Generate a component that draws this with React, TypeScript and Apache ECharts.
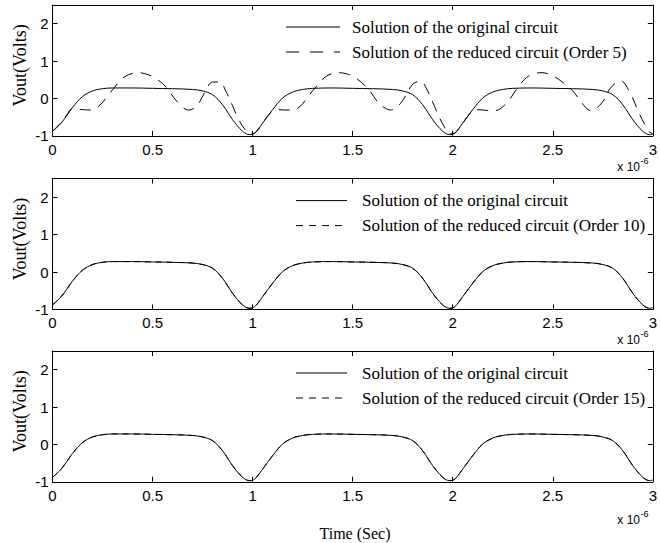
import React, { useEffect, useRef } from "react";
import * as echarts from "echarts";

// ---- data (time in microseconds, volts) ----
const xTickValues = [0, 0.5, 1, 1.5, 2, 2.5, 3];
const yTickValues = [-1, 0, 1, 2];

const originalTime = [
  0, 0.04, 0.07, 0.1, 0.15, 0.2, 0.25, 0.3, 0.4, 0.5, 0.6, 0.7, 0.75, 0.8, 0.85, 0.9, 0.95, 0.985,
  1.01, 1.05, 1.1, 1.15, 1.2, 1.25, 1.3, 1.4, 1.5, 1.6, 1.7, 1.75, 1.8, 1.85, 1.9, 1.95, 1.985,
  2.01, 2.05, 2.1, 2.15, 2.2, 2.25, 2.3, 2.4, 2.5, 2.6, 2.7, 2.75, 2.8, 2.85, 2.9, 2.95, 2.985, 3.0,
];
const originalVolts = [
  -0.88, -0.68, -0.47, -0.24, 0.05, 0.2, 0.26, 0.28, 0.28, 0.27, 0.26, 0.24, 0.2, 0.1, -0.17, -0.57, -0.88, -0.97,
  -0.93, -0.66, -0.3, 0.01, 0.17, 0.24, 0.27, 0.28, 0.27, 0.26, 0.24, 0.2, 0.1, -0.17, -0.57, -0.88, -0.97,
  -0.93, -0.66, -0.3, 0.01, 0.17, 0.24, 0.27, 0.28, 0.27, 0.26, 0.24, 0.2, 0.1, -0.17, -0.57, -0.88, -0.97, -0.95,
];

const reduced5Time = [
  0, 0.04, 0.07, 0.1, 0.15, 0.19, 0.23, 0.27, 0.31, 0.36, 0.43, 0.48, 0.52, 0.57, 0.62, 0.68, 0.72, 0.76, 0.8, 0.835, 0.87, 0.9, 0.93, 0.96, 0.985,
  1.01, 1.05, 1.09, 1.12, 1.16, 1.2, 1.24, 1.27, 1.32, 1.37, 1.43, 1.48, 1.52, 1.58, 1.63, 1.69, 1.74, 1.8, 1.84, 1.87, 1.9, 1.93, 1.96, 1.985,
  2.01, 2.05, 2.09, 2.12, 2.17, 2.21, 2.27, 2.33, 2.38, 2.445, 2.49, 2.53, 2.6, 2.645, 2.69, 2.745, 2.79, 2.84, 2.886, 2.93, 2.96, 2.98, 3.0,
];
const reduced5Volts = [
  -0.88, -0.66, -0.45, -0.27, -0.3, -0.31, -0.21, 0.02, 0.3, 0.58, 0.69, 0.63, 0.52, 0.29, -0.07, -0.31, -0.21, 0.15, 0.44, 0.44, 0.15, -0.2, -0.56, -0.82, -0.95,
  -0.93, -0.66, -0.38, -0.3, -0.31, -0.31, -0.2, 0.0, 0.33, 0.6, 0.69, 0.64, 0.53, 0.24, -0.12, -0.31, -0.13, 0.38, 0.46, 0.25, -0.1, -0.47, -0.78, -0.95,
  -0.93, -0.66, -0.38, -0.3, -0.32, -0.33, -0.12, 0.33, 0.6, 0.69, 0.63, 0.51, 0.2, -0.12, -0.33, -0.12, 0.29, 0.47, 0.15, -0.38, -0.7, -0.88, -0.95,
];
// Orders 10 and 15 coincide with the original solution in the picture
const reduced10Volts = originalVolts.slice();
const reduced15Volts = originalVolts.slice();

const originalName = "Solution of the original circuit";
const reducedNames = [
  "Solution of the reduced circuit (Order 5)",
  "Solution of the reduced circuit (Order 10)",
  "Solution of the reduced circuit (Order 15)",
];

const pair = (xs: number[], ys: number[]) => xs.map((x, i) => [x, ys[i]]);

const SANS = "'Liberation Sans', Arial, Helvetica, sans-serif";
const SERIF = "'Liberation Serif', 'Times New Roman', serif";

export default function App() {
  const ref = useRef<HTMLDivElement>(null);
  useEffect(() => {
    if (!ref.current) return;
    const chart = echarts.init(ref.current, undefined, { renderer: "svg" });

    const gridTops = [5, 178.6, 351];
    const gridH = 130.8;
    const gridLeft = 52.5;
    const gridW = 602;
    const reducedTimes = [reduced5Time, originalTime, originalTime];
    const reducedVolts = [reduced5Volts, reduced10Volts, reduced15Volts];
    const dashes = [[11, 8], [6, 5], [6, 5]];

    const grids: any[] = [];
    const xAxes: any[] = [];
    const yAxes: any[] = [];
    const series: any[] = [];
    const graphics: any[] = [];

    gridTops.forEach((top, i) => {
      grids.push({ left: gridLeft, top, width: gridW, height: gridH, show: false });
      const axLine = { show: true, onZero: false, lineStyle: { color: "#000", width: 1 } };
      const tick = { show: true, inside: true, length: 5, lineStyle: { color: "#000", width: 1 } };
      xAxes.push({
        type: "value", gridIndex: i, position: "bottom", min: 0, max: 3, interval: 0.5,
        axisLine: axLine, axisTick: tick, splitLine: { show: false },
        axisLabel: {
          show: true, color: "#000", fontSize: 15, fontFamily: SANS, margin: 6,
          formatter: (v: number) => (xTickValues.indexOf(v) >= 0 ? String(v) : ""),
        },
      });
      xAxes.push({
        type: "value", gridIndex: i, position: "top", min: 0, max: 3, interval: 0.5,
        axisLine: axLine, axisTick: tick, splitLine: { show: false }, axisLabel: { show: false },
      });
      yAxes.push({
        type: "value", gridIndex: i, position: "left", min: -1, max: 2.5, interval: 1,
        axisLine: axLine, axisTick: tick, splitLine: { show: false },
        axisLabel: {
          show: true, color: "#000", fontSize: 15, fontFamily: SANS, margin: 4, showMaxLabel: false,
          formatter: (v: number) => (yTickValues.indexOf(v) >= 0 ? String(v) : ""),
        },
      });
      yAxes.push({
        type: "value", gridIndex: i, position: "right", min: -1, max: 2.5, interval: 1,
        axisLine: axLine, axisTick: tick, splitLine: { show: false }, axisLabel: { show: false },
      });
      series.push({
        type: "line", name: originalName, xAxisIndex: i * 2, yAxisIndex: i * 2,
        data: pair(originalTime, originalVolts), showSymbol: false, smooth: 0.35,
        lineStyle: { color: "#000", width: 1 }, z: 2,
      });
      series.push({
        type: "line", name: reducedNames[i], xAxisIndex: i * 2, yAxisIndex: i * 2,
        data: pair(reducedTimes[i], reducedVolts[i]), showSymbol: false, smooth: 0.35,
        lineStyle: { color: "#000", width: 1, type: dashes[i] }, z: 3,
      });

      // legend (drawn as graphics)
      const lx0 = i === 0 ? 286 : 296;
      const lx1 = i === 0 ? 340 : 347;
      const tx = i === 0 ? 352 : 362;
      const r1 = top + 22;
      const r2 = top + 47;
      graphics.push({
        type: "line", shape: { x1: lx0, y1: r1, x2: lx1, y2: r1 },
        style: { stroke: "#000", lineWidth: 1 },
      });
      graphics.push({
        type: "line", shape: { x1: lx0, y1: r2, x2: lx1, y2: r2 },
        style: { stroke: "#000", lineWidth: 1, lineDash: i === 0 ? [13, 11] : [7, 6] },
      });
      graphics.push({
        type: "text", x: tx, y: r1,
        style: { text: originalName, fill: "#000", font: `17px ${SERIF}`, align: "left", verticalAlign: "middle" },
      });
      graphics.push({
        type: "text", x: tx, y: r2,
        style: { text: reducedNames[i], fill: "#000", font: `17px ${SERIF}`, align: "left", verticalAlign: "middle" },
      });
      // y-axis title
      graphics.push({
        type: "text", x: 20, y: top + gridH / 2 - 5, rotation: Math.PI / 2,
        style: { text: "Vout(Volts)", fill: "#000", font: `18px ${SERIF}`, align: "center", verticalAlign: "middle" },
      });
      // exponent label
      const ey = i === 2 ? 520 : top + gridH + 31;
      graphics.push({
        type: "text", x: 640, y: ey,
        style: { text: "x 10", fill: "#000", font: `12px ${SANS}`, align: "right", verticalAlign: "middle" },
      });
      graphics.push({
        type: "text", x: 640.5, y: ey - 6,
        style: { text: "-6", fill: "#000", font: `9px ${SANS}`, align: "left", verticalAlign: "middle" },
      });
    });

    graphics.push({
      type: "text", x: 355, y: 533,
      style: { text: "Time (Sec)", fill: "#000", font: `16px ${SERIF}`, align: "center", verticalAlign: "middle" },
    });

    chart.setOption({
      animation: false,
      backgroundColor: "#fff",
      grid: grids,
      xAxis: xAxes,
      yAxis: yAxes,
      series,
      graphic: graphics,
    });
    return () => chart.dispose();
  }, []);

  return (
    <div
      ref={ref}
      style={{ position: "fixed", left: 0, top: 0, width: 660, height: 543, background: "#fff" }}
    />
  );
}
